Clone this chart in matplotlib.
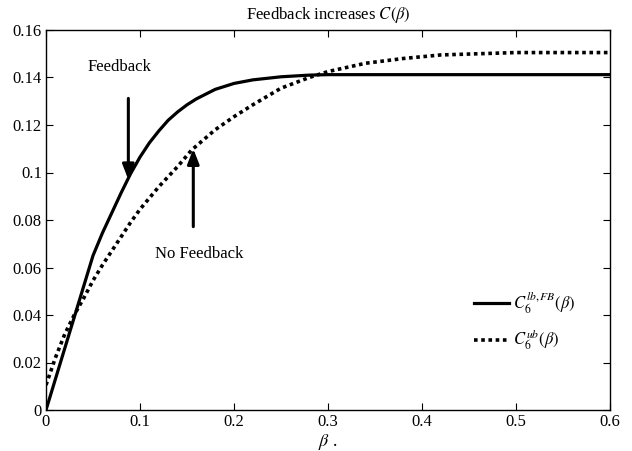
import matplotlib
matplotlib.use("Agg")
import matplotlib.pyplot as plt

plt.rcParams['font.family'] = ['Liberation Serif', 'DejaVu Serif']
plt.rcParams['mathtext.fontset'] = 'stix'

beta_fb = [0, 0.025, 0.05, 0.06, 0.07, 0.08, 0.09, 0.10, 0.11, 0.12, 0.13, 0.14,
           0.15, 0.16, 0.17, 0.18, 0.20, 0.22, 0.25, 0.28, 0.30, 0.6]
c_fb = [0, 0.0325, 0.065, 0.0745, 0.083, 0.0915, 0.0995, 0.1065, 0.1125, 0.1175,
        0.122, 0.1255, 0.1285, 0.131, 0.133, 0.135, 0.1375, 0.139, 0.1403,
        0.141, 0.1412, 0.1412]

beta_ub = [0, 0.01, 0.02, 0.03, 0.04, 0.05, 0.06, 0.07, 0.08, 0.09, 0.10, 0.12,
           0.14, 0.155, 0.18, 0.20, 0.22, 0.25, 0.28, 0.30, 0.34, 0.38, 0.42,
           0.46, 0.50, 0.6]
c_ub = [0.0105, 0.022, 0.032, 0.040, 0.047, 0.0545, 0.061, 0.067, 0.073, 0.079,
        0.0845, 0.094, 0.1025, 0.1095, 0.118, 0.1235, 0.1285, 0.1355, 0.140,
        0.1425, 0.146, 0.148, 0.1495, 0.150, 0.1505, 0.1505]

xticks = [0, 0.1, 0.2, 0.3, 0.4, 0.5, 0.6]
xticklabels = ['0', '0.1', '0.2', '0.3', '0.4', '0.5', '0.6']
yticks = [0, 0.02, 0.04, 0.06, 0.08, 0.1, 0.12, 0.14, 0.16]
yticklabels = ['0', '0.02', '0.04', '0.06', '0.08', '0.1', '0.12', '0.14', '0.16']

fig = plt.figure(figsize=(6.32, 4.51), dpi=100)
ax = fig.add_axes([46/632, 41/451, 564/632, 380/451])

ax.plot(beta_fb, c_fb, color='black', lw=2.3, solid_joinstyle='round',
        label=r'$C_6^{lb,FB}(\beta)$')
ax.plot(beta_ub, c_ub, color='black', lw=2.6, dashes=(1, 1),
        dash_capstyle='butt', label=r'$C_6^{ub}(\beta)$')

ax.set_xlim(0, 0.6)
ax.set_ylim(0, 0.16)
ax.set_xticks(xticks)
ax.set_xticklabels(xticklabels)
ax.set_yticks(yticks)
ax.set_yticklabels(yticklabels)
ax.tick_params(direction='in', top=True, right=True, labelsize=12, length=5,
               width=0.8, pad=3)
for s in ax.spines.values():
    s.set_linewidth(1.0)

ax.set_title(r'Feedback increases $C(\beta)$', fontsize=12, pad=8)
ax.set_xlabel(r'$\beta$ .', fontsize=13, labelpad=1)

ax.annotate('', xy=(0.0876, 0.0970), xytext=(0.0876, 0.1312),
            arrowprops=dict(arrowstyle='-|>,head_width=0.35,head_length=0.9',
                            color='black', lw=2.2, shrinkA=0, shrinkB=0))
ax.annotate('', xy=(0.1567, 0.1100), xytext=(0.1567, 0.0772),
            arrowprops=dict(arrowstyle='-|>,head_width=0.35,head_length=0.9',
                            color='black', lw=2.2, shrinkA=0, shrinkB=0))
ax.text(0.078, 0.1445, 'Feedback', fontsize=12, ha='center', va='center')
ax.text(0.163, 0.0655, 'No Feedback', fontsize=12, ha='center', va='center')

ax.legend(loc='lower right', bbox_to_anchor=(0.965, 0.112), frameon=False,
          fontsize=12, handlelength=2.1, handletextpad=0.25, labelspacing=0.75)

fig.savefig('out.png', dpi=100)
